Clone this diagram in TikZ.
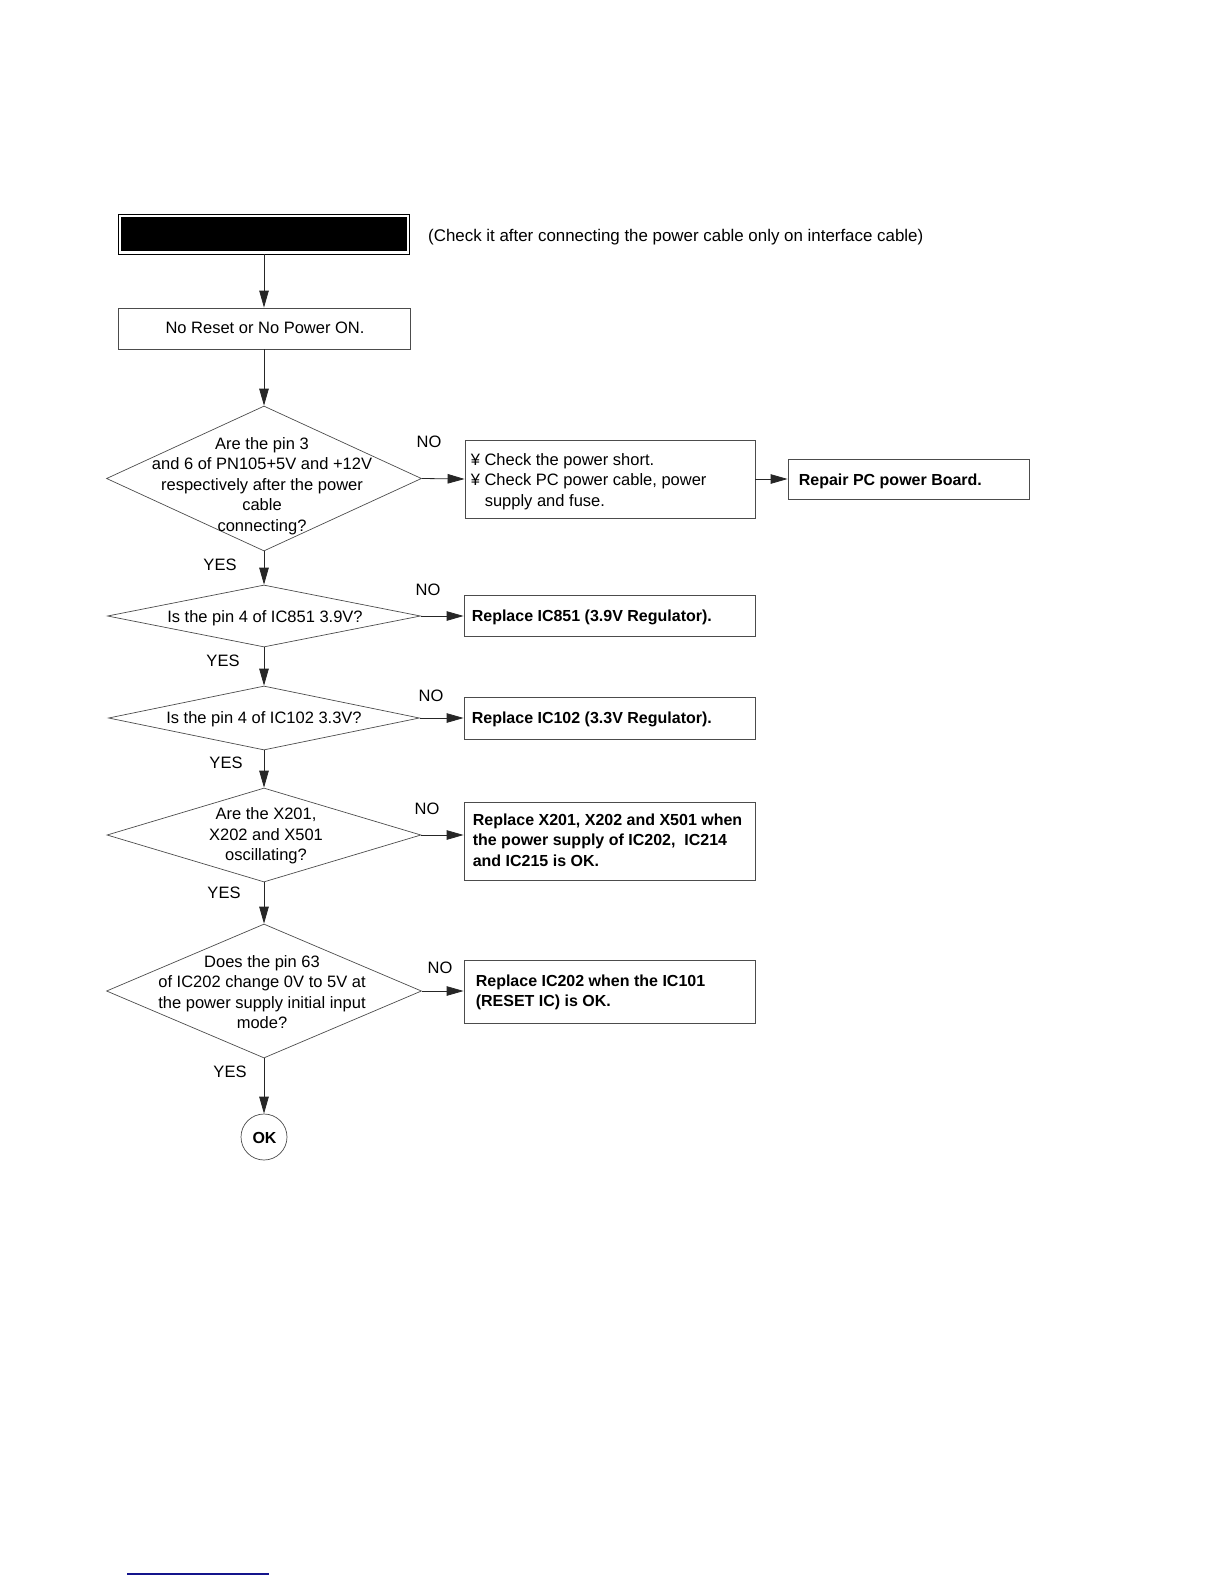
\documentclass[tikz,border=0pt]{standalone}
\usepackage{fontspec}
\setmainfont{Liberation Sans}
\usetikzlibrary{shapes.geometric,arrows.meta}
\begin{document}
\begin{tikzpicture}[x=1pt,y=-1pt,
  every node/.style={font=\fontsize{16.5}{20.5}\selectfont},
  box/.style={draw=black!70, line width=0.8pt, rectangle, inner sep=0pt},
  dia/.style={draw=black!70, line width=0.7pt, diamond, inner sep=0pt},
  conn/.style={draw=black!85, line width=0.8pt, -{Triangle[length=17pt,width=9.5pt]}},
  dtext/.style={align=center, inner sep=0pt},
  btext/.style={align=left, inner sep=0pt, anchor=west},
  bold/.style={font=\fontsize{16}{20.5}\selectfont\bfseries},
  lbl/.style={inner sep=0pt}
]
\useasboundingbox (0,0) rectangle (1224,1584);

% title
\node[draw=black, line width=0.9pt, minimum width=291pt, minimum height=40pt, inner sep=0pt] (title) at (264,234) {};
\fill[black] ([xshift=3pt,yshift=-3pt]title.north west) rectangle ([xshift=-3pt,yshift=3pt]title.south east);
\node[lbl, anchor=west, font=\fontsize{16.9}{20.5}\selectfont] (note) at (428,237) {(Check it after connecting the power cable only on interface cable)};

% box 1
\node[box, minimum width=292pt, minimum height=41pt] (b1) at (264,328.5) {};
\node[lbl] (b1t) at (265,328) {No Reset or No Power ON.};

% diamonds
\node[dia, minimum width=315pt, minimum height=145pt] (d1) at (264,478.5) {};
\node[dtext] (t1) at (262,486) {Are the pin 3\\and 6 of PN105+5V and +12V\\respectively after the power\\cable\\connecting?};
\node[dia, minimum width=313pt, minimum height=62pt] (d2) at (264,616) {};
\node[dtext] (t2) at (265,618) {Is the pin 4 of IC851 3.9V?};
\node[dia, minimum width=311pt, minimum height=64pt] (d3) at (264,718) {};
\node[dtext] (t3) at (264,719.5) {Is the pin 4 of IC102 3.3V?};
\node[dia, minimum width=314pt, minimum height=94pt] (d4) at (264,835) {};
\node[dtext] (t4) at (266,836) {Are the X201,\\X202 and X501\\oscillating?};
\node[dia, minimum width=315pt, minimum height=134pt] (d5) at (264,991) {};
\node[dtext] (t5) at (262,992) {Does the pin 63\\of IC202 change 0V to 5V at\\the power supply initial input\\mode?};

% OK circle
\node[draw=black!70, line width=0.7pt, circle, minimum size=46pt, inner sep=0pt] (ok) at (264,1137) {};
\node[lbl, bold] (okt) at (264.5,1138) {OK};

% right boxes
\node[box, minimum width=290pt, minimum height=78pt] (b2) at (610,479) {};
\node[btext] (b2t) at ([xshift=6pt,yshift=-2.5pt]b2.west)
  {¥ Check the power short.\\¥ Check PC power cable, power\\\hspace*{14pt}supply and fuse.};
\node[box, minimum width=241pt, minimum height=40pt] (b3) at (908.5,479.5) {};
\node[btext, bold] (b3t) at ([xshift=11pt,yshift=-1.5pt]b3.west) {Repair PC power Board.};
\node[box, minimum width=291pt, minimum height=41pt] (b4) at (609.5,616) {};
\node[btext, bold] (b4t) at ([xshift=8pt,yshift=-1.5pt]b4.west) {Replace IC851 (3.9V Regulator).};
\node[box, minimum width=291pt, minimum height=42pt] (b5) at (609.5,718) {};
\node[btext, bold] (b5t) at ([xshift=8pt,yshift=-1.5pt]b5.west) {Replace IC102 (3.3V Regulator).};
\node[box, minimum width=291pt, minimum height=78pt] (b6) at (609.5,841) {};
\node[btext, bold] (b6t) at ([xshift=9pt,yshift=1pt]b6.west) {Replace X201, X202 and X501 when\\the power supply of IC202,\ \ IC214\\and IC215 is OK.};
\node[box, minimum width=291pt, minimum height=63pt] (b7) at (609.5,991.5) {};
\node[btext, bold] (b7t) at ([xshift=12pt,yshift=-1pt]b7.west) {Replace IC202 when the IC101\\(RESET IC) is OK.};

% vertical connectors
\draw[conn] (title.south) -- (b1.north);
\draw[conn] (b1.south) -- (d1.north);
\draw[conn] (d1.south) -- (d2.north);
\draw[conn] (d2.south) -- (d3.north);
\draw[conn] (d3.south) -- (d4.north);
\draw[conn] (d4.south) -- (d5.north);
\draw[conn] (d5.south) -- (ok.north);

% horizontal connectors
\draw[conn] (d1.east) -- (b2.west);
\draw[conn] (b2.east) -- (b3.west |- b2.east);
\draw[conn] (d2.east) -- (b4.west);
\draw[conn] (d3.east) -- (b5.west);
\draw[conn] (d4.east) -- (b6.west |- d4.east);
\draw[conn] (d5.east) -- (b7.west |- d5.east);

% labels
\node[lbl] (n1) at (429,441.5) {NO};
\node[lbl] (n2) at (428,589.5) {NO};
\node[lbl] (n3) at (431,695.5) {NO};
\node[lbl] (n4) at (427,808.5) {NO};
\node[lbl] (n5) at (440,967.5) {NO};
\node[lbl] (y1) at (220,565) {YES};
\node[lbl] (y2) at (223,661) {YES};
\node[lbl] (y3) at (226,763) {YES};
\node[lbl] (y4) at (224,893) {YES};
\node[lbl] (y5) at (230,1072) {YES};

% underline at bottom
\draw[color={rgb,255:red,20;green,20;blue,140}, line width=1.3pt] (127,1574) -- (269,1574);
\end{tikzpicture}
\end{document}
